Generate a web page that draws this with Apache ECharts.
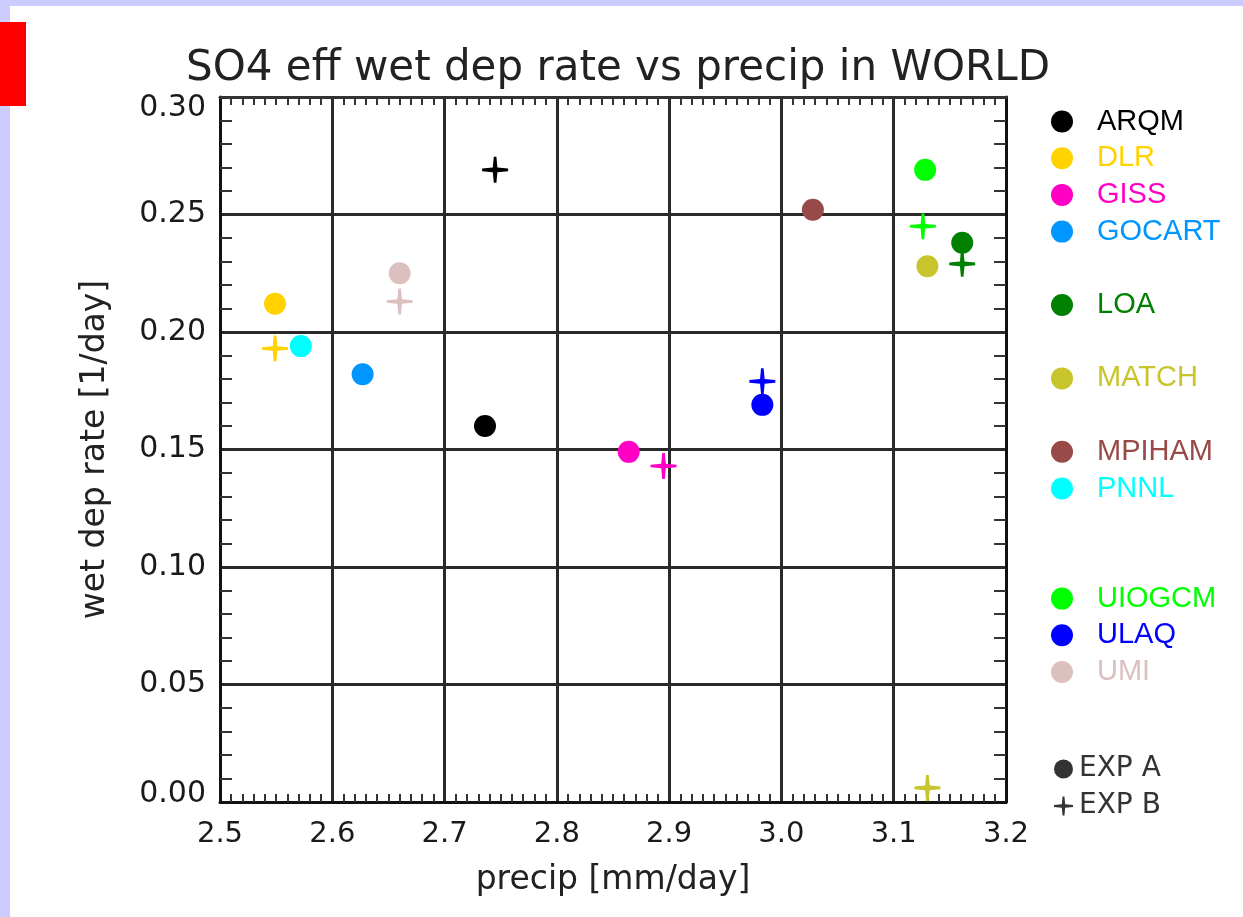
<!DOCTYPE html>
<html>
<head>
<meta charset="utf-8">
<title>SO4 eff wet dep rate vs precip in WORLD</title>
<script src="https://cdn.jsdelivr.net/npm/echarts@6/dist/echarts.min.js"></script>
<style>
  html, body { margin: 0; padding: 0; background: #ffffff; }
  #chart { width: 1243px; height: 917px; }
</style>
</head>
<body>
<div id="chart"></div>
<script>
// Models and their colours
const models = ['ARQM', 'DLR', 'GISS', 'GOCART', 'LOA', 'MATCH', 'MPIHAM', 'PNNL', 'UIOGCM', 'ULAQ', 'UMI'];
const modelColors = ['#000000', '#ffd200', '#ff00c4', '#0096ff', '#008000', '#c8c42c', '#984a48', '#00ffff', '#00ff00', '#0000ff', '#dcc0c0'];

// Experiment A (filled circles): precipitation [mm/day] and wet deposition rate [1/day]
const expAPrecip = [2.736, 2.549, 2.864, 2.627, 3.161, 3.130, 3.028, 2.572, 3.128, 2.983, 2.660];
const expARate   = [0.160, 0.212, 0.149, 0.182, 0.238, 0.228, 0.252, 0.194, 0.269, 0.169, 0.225];

// Experiment B (crosses); null where a model has no B run
const expBPrecip = [2.745, 2.549, 2.895, null, 3.161, 3.130, null, null, 3.126, 2.983, 2.660];
const expBRate   = [0.269, 0.193, 0.143, null, 0.229, 0.006, null, null, 0.245, 0.179, 0.213];

// Axis tick labels
const xTicks = ['2.5', '2.6', '2.7', '2.8', '2.9', '3.0', '3.1', '3.2'];
const yTicks = ['0.00', '0.05', '0.10', '0.15', '0.20', '0.25', '0.30'];

// Legend row of each model (rows left blank are kept empty)
const legendRow = [0, 1, 2, 3, 5, 7, 9, 10, 13, 14, 15];

const plusPath = 'path://M-1.3,-13 L1.3,-13 L2.3,-2.3 L13,-1.3 L13,1.3 L2.3,2.3 L1.3,13 L-1.3,13 L-2.3,2.3 L-13,1.3 L-13,-1.3 L-2.3,-2.3 Z';

const series = [];
models.forEach(function (name, i) {
  series.push({
    name: name,
    type: 'scatter',
    xAxisIndex: 0, yAxisIndex: 0,
    symbol: 'circle',
    symbolSize: 22,
    itemStyle: { color: modelColors[i], opacity: 1 },
    data: [[expAPrecip[i], expARate[i]]],
    z: 3
  });
  if (expBPrecip[i] !== null) {
    series.push({
      name: name,
      type: 'scatter',
      xAxisIndex: 0, yAxisIndex: 0,
      symbol: plusPath,
      symbolSize: 26,
      itemStyle: { color: modelColors[i], opacity: 1 },
      data: [[expBPrecip[i], expBRate[i]]],
      z: 4
    });
  }
});
// Empty series that only feed the experiment key
series.push({ name: 'EXP A', type: 'scatter', data: [], itemStyle: { color: '#000' } });
series.push({ name: 'EXP B', type: 'scatter', data: [], itemStyle: { color: '#000' } });

const legends = models.map(function (name, i) {
  return {
    left: 1051,
    top: 107 + legendRow[i] * 36.7,
    orient: 'vertical',
    padding: 0,
    icon: 'circle',
    itemWidth: 22,
    itemHeight: 22,
    selectedMode: false,
    textStyle: { fontFamily: 'Liberation Sans, Arial, sans-serif', fontSize: 29, padding: [0, 0, 0, 19] },
    data: [{ name: name, textStyle: { color: modelColors[i] } }]
  };
});
legends.push({
  left: 1054, top: 755, orient: 'vertical', padding: 0, itemGap: 9,
  itemWidth: 19, itemHeight: 19, selectedMode: false,
  textStyle: { fontFamily: 'DejaVu Sans, sans-serif', fontSize: 28, color: '#333', padding: [0, 0, 0, 1] },
  data: [{ name: 'EXP A', icon: 'circle' }, { name: 'EXP B', icon: plusPath }]
});

const gridColor = '#2a2a2a';
const tickFont = 'DejaVu Sans, sans-serif';
const plotW = 786, plotH = 705;

// An axis that only carries minor ticks. It sits on the opposite side of the
// frame (negative offset), so its outward ticks point into the plot.
function tickAxis(pos, offset, min, max, interval, n, len) {
  return {
    type: 'value', position: pos, offset: -offset, min: min, max: max, interval: interval,
    axisLine: { show: false, onZero: false },
    axisTick: { show: false },
    axisLabel: { show: false },
    splitLine: { show: false },
    minorTick: { show: true, splitNumber: n, length: len, lineStyle: { color: '#333', width: 2 } }
  };
}

const option = {
  backgroundColor: '#ffffff',
  animation: false,
  title: {
    text: 'SO4 eff wet dep rate vs precip in WORLD',
    left: 613, top: 43, textAlign: 'center',
    textStyle: { fontFamily: 'DejaVu Sans, sans-serif', fontWeight: 'normal', fontSize: 42, color: '#222' }
  },
  legend: legends,
  graphic: [
    { type: 'rect', left: 0, top: 0, shape: { width: 1243, height: 6 }, style: { fill: '#ccccff' }, silent: true },
    { type: 'rect', left: 0, top: 0, shape: { width: 10, height: 917 }, style: { fill: '#ccccff' }, silent: true },
    { type: 'rect', left: 0, top: 22, shape: { width: 26, height: 84 }, style: { fill: '#ff0000' }, silent: true }
  ],
  grid: { left: 220, top: 97, width: plotW, height: plotH },
  xAxis: [
    {
      type: 'value', position: 'bottom', min: 2.5, max: 3.2, interval: 0.1,
      name: 'precip [mm/day]', nameLocation: 'middle', nameGap: 62,
      nameTextStyle: { fontFamily: tickFont, fontSize: 33, color: '#222' },
      axisLine: { show: true, onZero: false, lineStyle: { color: '#111', width: 3 } },
      axisTick: { show: false },
      axisLabel: {
        margin: 18, fontFamily: tickFont, fontSize: 29, color: '#1a1a1a',
        formatter: function (v) { return xTicks[Math.round((v - 2.5) * 10)]; }
      },
      splitLine: { show: true, lineStyle: { color: gridColor, width: 3 } }
    },
    {
      type: 'value', position: 'top', min: 2.5, max: 3.2, interval: 0.1,
      axisLine: { show: true, onZero: false, lineStyle: { color: '#333', width: 3 } },
      axisTick: { show: false },
      axisLabel: { show: false },
      splitLine: { show: false }
    },
    tickAxis('top', plotH, 2.5, 3.2, 0.1, 10, 8),
    tickAxis('bottom', plotH, 2.5, 3.2, 0.1, 10, 8)
  ],
  yAxis: [
    {
      type: 'value', position: 'left', min: 0, max: 0.3, interval: 0.05,
      name: 'wet dep rate [1/day]', nameLocation: 'middle', nameGap: 108,
      nameTextStyle: { fontFamily: tickFont, fontSize: 33, color: '#222' },
      axisLine: { show: true, onZero: false, lineStyle: { color: '#111', width: 3 } },
      axisTick: { show: false },
      axisLabel: {
        margin: 14, fontFamily: tickFont, fontSize: 30, color: '#1a1a1a',
        formatter: function (v) {
          const i = Math.round(v / 0.05);
          if (i === yTicks.length - 1) return '{top|' + yTicks[i] + '}';
          if (i === 0) return '{bot|' + yTicks[i] + '}';
          return yTicks[i];
        },
        rich: {
          top: { fontFamily: tickFont, fontSize: 30, color: '#1a1a1a', padding: [22, 0, 0, 0] },
          bot: { fontFamily: tickFont, fontSize: 30, color: '#1a1a1a', padding: [0, 0, 16, 0] }
        }
      },
      splitLine: { show: true, lineStyle: { color: gridColor, width: 3 } }
    },
    {
      type: 'value', position: 'right', min: 0, max: 0.3, interval: 0.05,
      axisLine: { show: true, onZero: false, lineStyle: { color: '#111', width: 3 } },
      axisTick: { show: false },
      axisLabel: { show: false },
      splitLine: { show: false }
    },
    tickAxis('right', plotW, 0, 0.3, 0.05, 5, 12),
    tickAxis('left', plotW, 0, 0.3, 0.05, 5, 12)
  ],
  series: series
};

const chart = echarts.init(document.getElementById('chart'), null, { renderer: 'canvas' });
chart.setOption(option);
</script>
</body>
</html>
